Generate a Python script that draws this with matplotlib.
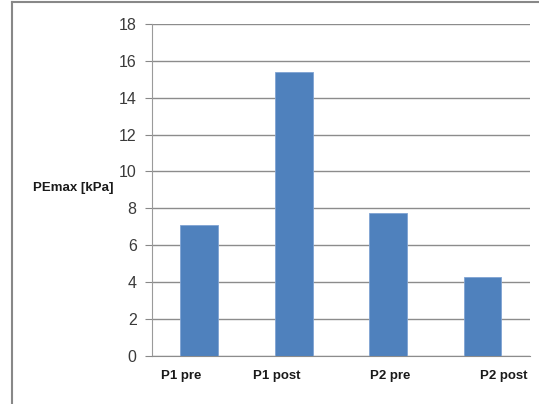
import matplotlib.pyplot as plt
from matplotlib.lines import Line2D
import matplotlib.transforms as mtransforms

categories = ['P1 pre', 'P1 post', 'P2 pre', 'P2 post']
pemax = [7.1, 15.4, 7.75, 4.3]
yticks = [0, 2, 4, 6, 8, 10, 12, 14, 16, 18]

plt.rcParams['font.family'] = ['Liberation Sans', 'DejaVu Sans']

fig = plt.figure(figsize=(5.39, 4.04), dpi=100)
ax = fig.add_axes([0.282, 0.119, 0.701, 0.822])

x = range(len(categories))
ax.bar(x, pemax, width=0.4, color='#4F81BD', edgecolor='#7FA3D3', linewidth=0.6, zorder=3)

ax.set_xlim(-0.5, len(categories) - 0.5)
ax.set_ylim(0, 18)
ax.set_yticks(yticks)
ax.set_xticks(list(x))
ax.set_xticklabels(categories, fontsize=9.5, fontweight='bold', color='#1a1a1a')
ax.tick_params(axis='x', length=0, pad=10)
ax.tick_params(axis='y', length=5, color='#888888', labelsize=11.5, labelcolor='#3a3a3a', pad=6)

# the labels in the original sit a bit off the bar centres
offsets = [-18, -17, 2, 21]
for lab, dx in zip(ax.get_xticklabels(), offsets):
    lab.set_transform(lab.get_transform() + mtransforms.ScaledTranslation(dx / 100, 0, fig.dpi_scale_trans))

ax.grid(axis='y', color='#8c8c8c', linewidth=1, zorder=0)
for side in ['top', 'right']:
    ax.spines[side].set_visible(False)
ax.spines['left'].set_color('#9a9a9a')
ax.spines['bottom'].set_color('#8c8c8c')

fig.text(0.061, 0.535, 'PEmax [kPa]', fontsize=9.5, fontweight='bold', color='#1a1a1a', va='center')

# chart frame
fig.add_artist(Line2D([0.023, 0.023], [0, 0.994], color='#888888', linewidth=1.5))
fig.add_artist(Line2D([0.023, 1.0], [0.994, 0.994], color='#888888', linewidth=1.5))

fig.savefig('out.png', dpi=100)
